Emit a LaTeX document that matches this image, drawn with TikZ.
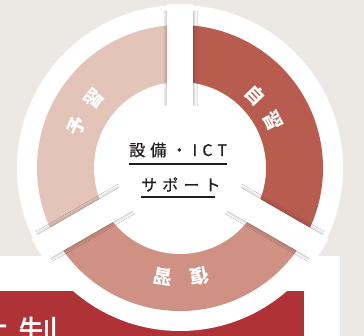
\documentclass[tikz,border=0pt]{standalone}
\usepackage{fontspec}
\newfontfamily\jp{Noto Sans CJK JP}
\newfontfamily\jpsp[LetterSpace=32,FakeBold=0.8]{Noto Sans CJK JP}
\usetikzlibrary{shadows.blur}
\definecolor{bgc}{HTML}{ECE8E3}
\definecolor{hdr}{HTML}{AF3237}
\definecolor{cyoshu}{HTML}{E4C4B9}
\definecolor{cjishu}{HTML}{B95C50}
\definecolor{cfukushu}{HTML}{CE9184}
\definecolor{txt}{HTML}{231F20}
\tikzset{
  lbl/.style={text=white, font=\jp\bfseries\fontsize{19}{19}\selectfont, inner sep=0},
  ctext/.style={text=txt, font=\jpsp\fontsize{16}{16}\selectfont, inner sep=0, anchor=west},
  htext/.style={text=white, font=\jp\fontsize{40}{40}\selectfont, inner sep=0, anchor=base west},
  uline/.style={draw=txt, line width=1.7pt},
  barshadow/.style={blur shadow={shadow xshift=0pt, shadow yshift=0pt, shadow blur radius=4pt, shadow opacity=40}}
}
\begin{document}
\begin{tikzpicture}[x=1pt,y=-1pt]
\useasboundingbox (0,0) rectangle (364,336);
\clip (0,0) rectangle (364,336);
\fill[bgc] (0,0) rectangle (364,336);
\fill[white] (0,256) rectangle (340,336);
\fill[hdr] (0,291) rectangle (304,336);
\node[htext] (h1) at (-32,351) {体};
\node[htext] (h2) at (18,351) {制};
\coordinate (c) at (180,168);
% outer white disc
\fill[white] (c) circle[radius=163pt];
% ring sectors
\fill[cyoshu] (c) -- ([shift={(90:143pt)}]c) arc[start angle=90, end angle=210, radius=143pt] -- cycle;
\fill[cfukushu] (c) -- ([shift={(210:143pt)}]c) arc[start angle=210, end angle=330, radius=143pt] -- cycle;
\fill[cjishu] (c) -- ([shift={(-30:143pt)}]c) arc[start angle=-30, end angle=90, radius=143pt] -- cycle;
\fill[white] (c) circle[radius=86pt];
% separating bars: shadows kept inside the disc
\begin{scope}
  \clip (c) circle[radius=158pt];
  \foreach \r in {0,120,240}{
    \begin{scope}[shift={(c)}, rotate=\r]
      \fill[white, barshadow] (-13pt,0pt) rectangle (13pt,170pt);
    \end{scope}
  }
\end{scope}
\foreach \r in {0,120,240}{
  \begin{scope}[shift={(c)}, rotate=\r]
    \fill[white] (-13pt,0pt) rectangle (13pt,164pt);
  \end{scope}
}
\fill[white] (c) circle[radius=64pt];
% ring labels
\node[lbl, rotate=68] (y1) at ([shift={(158:111pt)}]c) {予};
\node[lbl, rotate=51] (y2) at ([shift={(141:110pt)}]c) {習};
\node[lbl, rotate=-46] (j1) at ([shift={(44:104pt)}]c) {自};
\node[lbl, rotate=-63] (j2) at ([shift={(27:104pt)}]c) {習};
\node[lbl, rotate=190] (f1) at ([shift={(280:110pt)}]c) {復};
\node[lbl, rotate=171] (f2) at ([shift={(261:110pt)}]c) {習};
% centre text
\node[ctext] (t1) at (129,150) {設備・ICT};
\node[ctext] (t2) at (141,184.5) {サポート};
\draw[uline] (129,164) -- (227,164);
\draw[uline] (141,197) -- (215,197);
\end{tikzpicture}
\end{document}
